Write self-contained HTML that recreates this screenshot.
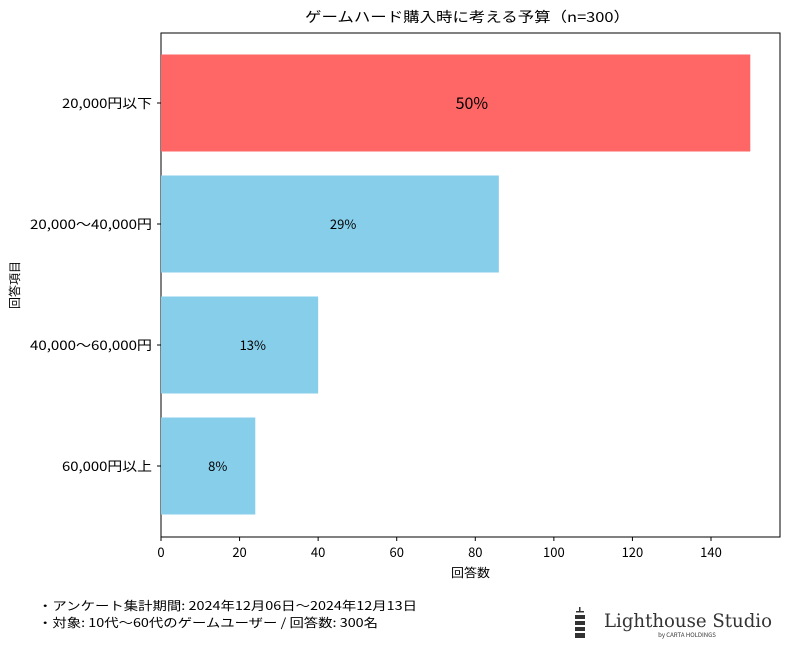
<!DOCTYPE html>
<html><head><meta charset="utf-8"><style>
body{margin:0;background:#fff;width:804px;height:662px;overflow:hidden;font-family:"Noto Sans CJK JP","Liberation Sans",sans-serif;}
svg text{font-family:"Noto Sans CJK JP","Liberation Sans",sans-serif;}
</style></head><body>
<svg id="chart" width="804" height="662">
<text x="305" y="22" font-size="14" textLength="325" lengthAdjust="spacingAndGlyphs" fill="#000">ゲームハード購入時に考える予算（n=300）</text>
<rect x="161" y="33" width="619" height="504" fill="none" stroke="#000" stroke-width="1"/>
<g id="bars"></g><g id="xticks"></g><g id="yticks"></g>
<text x="451" y="577" font-size="12" textLength="39" lengthAdjust="spacingAndGlyphs">回答数</text>
<text x="19" y="285" font-size="12" text-anchor="middle" transform="rotate(-90 19 285)">回答項目</text>
<text x="38" y="610" font-size="12" textLength="379" lengthAdjust="spacingAndGlyphs">・アンケート集計期間: 2024年12月06日〜2024年12月13日</text>
<text x="38" y="627" font-size="12" textLength="340" lengthAdjust="spacingAndGlyphs">・対象: 10代〜60代のゲームユーザー / 回答数: 300名</text>
<g>
<rect x="579" y="607" width="1.5" height="5" fill="#333"/>
<rect x="576" y="611" width="8" height="1.5" fill="#333"/>
<rect x="575" y="615" width="10" height="4" fill="#333"/>
<rect x="575" y="621" width="10" height="4" fill="#333"/>
<rect x="575" y="627" width="10" height="4" fill="#333"/>
<rect x="575" y="633" width="10" height="5" fill="#333"/>
<text x="604" y="627" font-size="19" style="font-family:'DejaVu Serif','Liberation Serif',serif" textLength="168" lengthAdjust="spacingAndGlyphs" fill="#333">Lighthouse Studio</text>
<text x="687" y="637" font-size="6" text-anchor="middle" fill="#333">by CARTA HOLDINGS</text>
</g>
</svg>
<script>
const categories=["20,000円以下","20,000〜40,000円","40,000〜60,000円","60,000円以上"];
const values=[150,86,40,24];
const labels=["50%","29%","13%","8%"];
const xTicks=[0,20,40,60,80,100,120,140];
const NS="http://www.w3.org/2000/svg";
const x=v=>161+v*550/140;
const yc=i=>103+i*121;
const bars=document.getElementById('bars');
categories.forEach((c,i)=>{
 const r=document.createElementNS(NS,'rect');
 r.setAttribute('x',x(0));r.setAttribute('y',yc(i)-48.5);
 r.setAttribute('width',x(values[i])-x(0));r.setAttribute('height',97);
 r.setAttribute('fill',i===0?'#ff6666':'#87ceeb');
 
 
 bars.appendChild(r);
 const t=document.createElementNS(NS,'text');
 t.setAttribute('x',x(values[i]/2));t.setAttribute('y',yc(i)+(i===0?6:5));
 t.setAttribute('text-anchor','start');t.setAttribute('font-size',i===0?16:13);
 t.textContent=labels[i];
 
 
 bars.appendChild(t);
 const yt=document.getElementById('yticks');
 const l=document.createElementNS(NS,'line');
 l.setAttribute('x1',157);l.setAttribute('x2',161);l.setAttribute('y1',yc(i));l.setAttribute('y2',yc(i));l.setAttribute('stroke','#000');
 
 
 yt.appendChild(l);
 const lt=document.createElementNS(NS,'text');
 lt.setAttribute('x',152);lt.setAttribute('y',yc(i)+5);lt.setAttribute('text-anchor','end');lt.setAttribute('font-size',13);
 lt.setAttribute('textLength',c.length>10?122:90);lt.setAttribute('lengthAdjust','spacingAndGlyphs');
 lt.textContent=c;
 
 
 yt.appendChild(lt);
});
const xt=document.getElementById('xticks');
xTicks.forEach(v=>{
 const l=document.createElementNS(NS,'line');
 l.setAttribute('x1',x(v));l.setAttribute('x2',x(v));l.setAttribute('y1',537);l.setAttribute('y2',541);l.setAttribute('stroke','#000');
 
 
 xt.appendChild(l);
 const t=document.createElementNS(NS,'text');
 t.setAttribute('x',x(v));t.setAttribute('y',557);t.setAttribute('text-anchor','middle');t.setAttribute('font-size',13);
 t.textContent=v;
 
 
 xt.appendChild(t);
});
</script>
</body></html>
